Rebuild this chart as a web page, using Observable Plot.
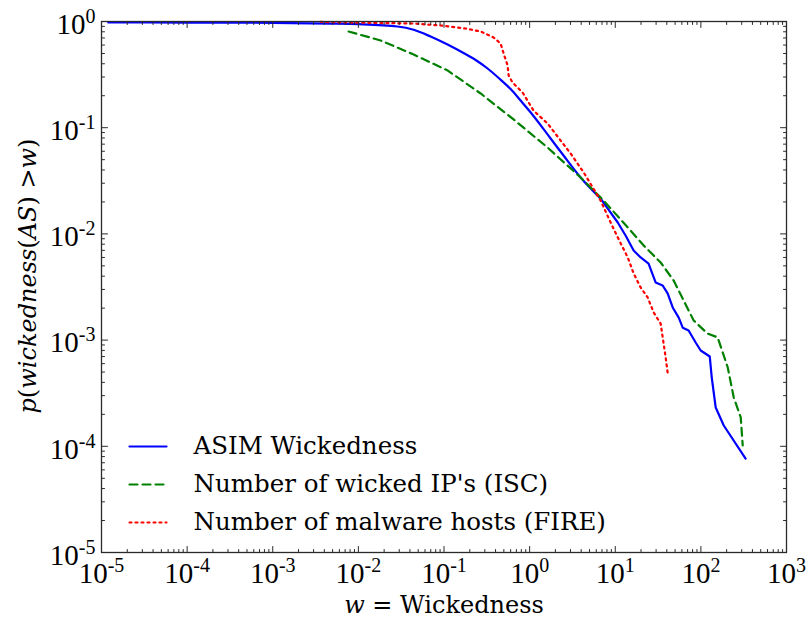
<!DOCTYPE html>
<html>
<head>
<meta charset="utf-8">
<script src="https://cdn.jsdelivr.net/npm/d3@7"></script>
<script src="https://cdn.jsdelivr.net/npm/@observablehq/plot@0.6"></script>
<style>
html,body{margin:0;padding:0;background:#fff;}
#chart{width:809px;height:620px;}
</style>
</head>
<body>
<div id="chart"></div>
<script>
// ---- data (w, p(wickedness > w)) ----
const asimW = [1.2e-5, 1e-4, 1e-3, 4.7e-3, 0.01, 0.0287, 0.0442, 0.0697, 0.110, 0.169, 0.234, 0.323, 0.435, 0.60, 0.785, 1.03, 1.76, 2.49, 3.94, 6.75, 10.7, 13.2, 16.4, 19.8, 24.5, 29.6, 35.8, 40.9, 46.9, 55.1, 61.4, 71.9, 86.9, 99.5, 127, 134, 149, 185, 333];
const asimP = [0.979, 0.978, 0.972, 0.957, 0.945, 0.897, 0.835, 0.722, 0.607, 0.505, 0.434, 0.361, 0.294, 0.231, 0.180, 0.139, 0.0791, 0.0547, 0.034, 0.0215, 0.0128, 0.00966, 0.00698, 0.006, 0.00526, 0.00349, 0.00327, 0.00275, 0.00203, 0.00163, 0.00131, 0.00123, 0.00095, 0.000798, 0.000701, 0.000444, 0.000232, 0.000157, 7.67e-5];

const iscW = [0.00769, 0.0182, 0.0442, 0.110, 0.268, 0.650, 1.62, 3.94, 7.31, 14.0, 21.5, 33.9, 48.1, 62.9, 82.4, 120, 157, 206, 242, 292, 308];
const iscP = [0.805, 0.663, 0.489, 0.346, 0.21, 0.1195, 0.0651, 0.034, 0.0206, 0.0115, 0.00778, 0.00538, 0.00364, 0.00236, 0.00153, 0.00115, 0.00106, 0.000552, 0.000288, 0.000187, 0.000102];

const fireW = [0.0036, 0.00473, 0.0442, 0.0912, 0.179, 0.268, 0.380, 0.458, 0.497, 0.553, 0.569, 0.633, 0.828, 1.11, 1.62, 2.30, 3.01, 4.28, 6.75, 8.83, 10.7, 14.0, 16.4, 19.8, 23.9, 28.1, 33.9, 36.7, 38.8, 40.9];
const fireP = [0.995, 0.985, 0.957, 0.917, 0.859, 0.805, 0.707, 0.621, 0.50, 0.385, 0.31, 0.266, 0.2145, 0.145, 0.1095, 0.0758, 0.0572, 0.0379, 0.0206, 0.0128, 0.00925, 0.006, 0.00424, 0.00313, 0.00252, 0.00182, 0.00143, 0.000929, 0.000686, 0.000495];

const seriesNames = ["ASIM Wickedness", "Number of wicked IP's (ISC)", "Number of malware hosts (FIRE)"];

const xTicks = [1e-5, 1e-4, 1e-3, 1e-2, 1e-1, 1, 10, 100, 1000];
const xTickLabels = ["10^-5", "10^-4", "10^-3", "10^-2", "10^-1", "10^0", "10^1", "10^2", "10^3"];
const yTicks = [1, 1e-1, 1e-2, 1e-3, 1e-4, 1e-5];
const yTickLabels = ["10^0", "10^-1", "10^-2", "10^-3", "10^-4", "10^-5"];

const xLabel = "w = Wickedness";
const yLabel = "p(wickedness(AS) >w)";

// ---- helpers ----
const rows = (ws, ps) => ws.map((w, i) => ({w, p: ps[i]}));
const minors = majors => {
  const s = [...majors].sort((a, b) => a - b), out = [];
  for (let i = 0; i < s.length - 1; i++) for (let k = 2; k < 10; k++) out.push(s[i] * k);
  return out;
};
const lineShape = {draw(ctx, l) { ctx.moveTo(0, 0); ctx.lineTo(0, -l); }};
const AX = "#2a2a2a";
const ticks = (vals, side, len) => {
  const rot = {bottom: 0, top: 180, left: 90, right: -90}[side];
  const isX = side === "bottom" || side === "top";
  return Plot.vector(vals, {[isX ? "x" : "y"]: d => d, frameAnchor: side, rotate: rot, length: len,
    anchor: "start", shape: lineShape, stroke: AX, strokeWidth: 1});
};
const colors = ["#0000ff", "#008000", "#ff0000"];
const dashes = [null, "8,5", "2,4"];
const legendDy = [-106, -68, -30];

const legendMarks = seriesNames.flatMap((name, i) => [
  Plot.vector([0], {frameAnchor: "bottom-left", dx: 28, dy: legendDy[i], rotate: 90, length: 37, anchor: "start",
    shape: lineShape, stroke: colors[i], strokeWidth: 2.2, strokeDasharray: dashes[i]}),
  Plot.text([name], {frameAnchor: "bottom-left", dx: 92, dy: legendDy[i], textAnchor: "start", lineAnchor: "middle",
    fontFamily: "DejaVu Serif", fontSize: 24.5, fill: "#000"})
]);

// the smooth head of the ASIM curve is drawn with a monotone curve, its stepped tail with straight segments
const asimRows = rows(asimW, asimP);
const asimSplit = asimW.indexOf(6.75);

const chart = Plot.plot({
  width: 809, height: 620,
  marginTop: 21, marginRight: 23, marginBottom: 68, marginLeft: 101,
  x: {type: "log", domain: [1e-5, 1e3], axis: null},
  y: {type: "log", domain: [1e-5, 1], axis: null},
  style: {background: "#fff", overflow: "visible"},
  marks: [
    Plot.line(asimRows.slice(0, asimSplit + 1), {x: "w", y: "p", stroke: colors[0], strokeWidth: 2.2, curve: "monotone-x"}),
    Plot.line(asimRows.slice(asimSplit), {x: "w", y: "p", stroke: colors[0], strokeWidth: 2.2}),
    Plot.line(rows(iscW, iscP), {x: "w", y: "p", stroke: colors[1], strokeWidth: 2.2, strokeDasharray: dashes[1]}),
    Plot.line(rows(fireW, fireP), {x: "w", y: "p", stroke: colors[2], strokeWidth: 2.2, strokeDasharray: dashes[2]}),
    ticks(xTicks, "bottom", 6), ticks(xTicks, "top", 6),
    ticks(minors(xTicks), "bottom", 3), ticks(minors(xTicks), "top", 3),
    ticks(yTicks, "left", 6), ticks(yTicks, "right", 6),
    ticks(minors(yTicks), "left", 3), ticks(minors(yTicks), "right", 3),
    Plot.frame({stroke: AX, strokeWidth: 1.3}),
    Plot.text(xTicks, {x: d => d, text: (d, i) => xTickLabels[i], frameAnchor: "bottom", lineAnchor: "top", dy: 10,
      fontFamily: "Liberation Serif", fontSize: 29, fill: "#000"}),
    Plot.text(yTicks, {y: d => d, text: (d, i) => yTickLabels[i], frameAnchor: "left", textAnchor: "end", lineAnchor: "middle",
      dx: -6, dy: 3, fontFamily: "Liberation Serif", fontSize: 29, fill: "#000"}),
    Plot.text([xLabel], {frameAnchor: "bottom", dy: 53, lineAnchor: "middle", fontFamily: "DejaVu Serif", fontSize: 24,
      fill: "#000"}),
    Plot.text([yLabel], {frameAnchor: "left", dx: -73, dy: -11, rotate: -90, textAnchor: "middle", lineAnchor: "middle",
      fontFamily: "DejaVu Serif", fontSize: 24, fill: "#000"}),
    ...legendMarks
  ]
});

const NS = "http://www.w3.org/2000/svg";
const tspan = (txt, attrs) => {
  const t = document.createElementNS(NS, "tspan");
  t.textContent = txt;
  for (const k in attrs) t.setAttribute(k, attrs[k]);
  return t;
};
const allText = [...chart.querySelectorAll("text")];
// superscript exponents on tick labels
allText.filter(t => t.textContent.includes("^")).forEach(t => {
  const [b, e] = t.textContent.split("^");
  t.textContent = "";
  t.appendChild(tspan(b, {}));
  t.appendChild(tspan(e, {dy: "-11", "font-size": "20"}));
});
// italic math pieces in axis labels
const styleParts = (full, parts) => {
  const t = allText.find(el => el.textContent === full);
  if (!t) return;
  t.textContent = "";
  t.setAttribute("text-anchor", "middle");
  parts.forEach(([s, it]) => t.appendChild(tspan(s, it ? {"font-style": "italic"} : {})));
};
styleParts(xLabel, [["w", true], [" = Wickedness", false]]);
styleParts(yLabel, [["p", true], ["(", false], ["wickedness", true], ["(", false], ["AS", true], [")", false],
  [" >", false], ["w", true], [")", false]]);

document.getElementById("chart").appendChild(chart);
</script>
</body>
</html>
